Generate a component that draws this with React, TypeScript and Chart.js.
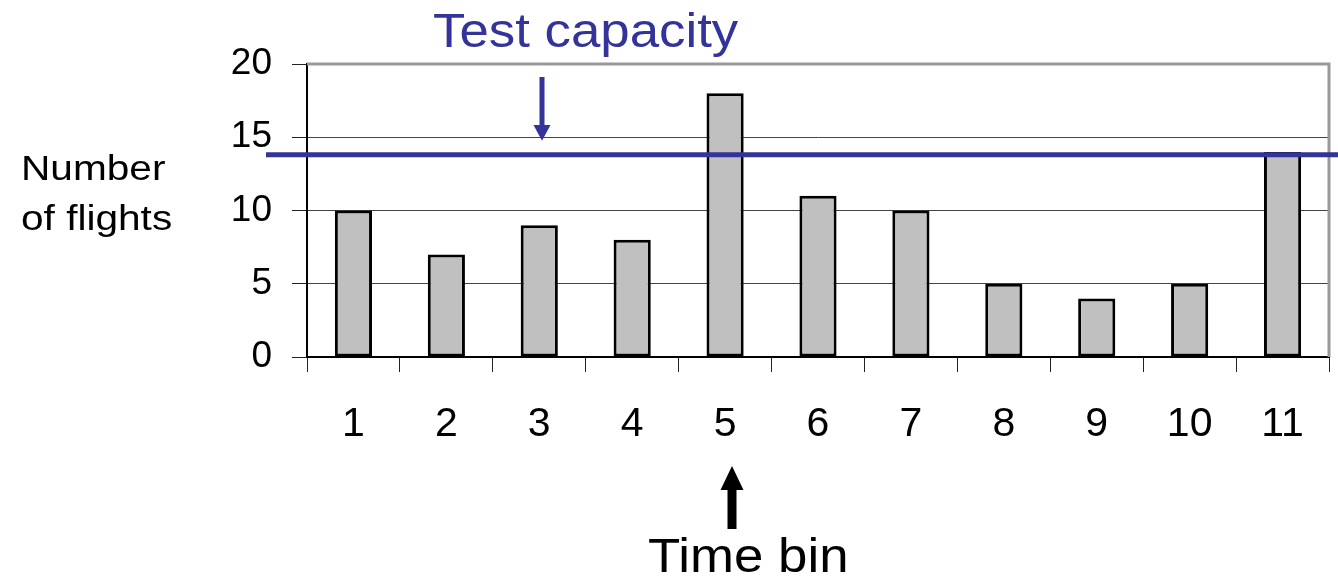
import React, { useEffect, useRef } from "react";
import { Chart, registerables } from "chart.js";

Chart.register(...registerables);

const categories = ["1", "2", "3", "4", "5", "6", "7", "8", "9", "10", "11"];
const flights = [10, 7, 9, 8, 18, 11, 10, 5, 4, 5, 14];
const capacity = 13.8;
const yTicks = [0, 5, 10, 15, 20];

const FONT = '"Liberation Sans", Arial, sans-serif';

const overlayPlugin = {
  id: "overlay",
  beforeDatasetsDraw(chart: any) {
    const { ctx, chartArea } = chart;
    ctx.save();
    ctx.strokeStyle = "#999999";
    ctx.lineWidth = 3;
    ctx.beginPath();
    ctx.moveTo(chartArea.left, chartArea.top);
    ctx.lineTo(chartArea.right, chartArea.top);
    ctx.lineTo(chartArea.right, chartArea.bottom);
    ctx.stroke();
    ctx.restore();
  },
  afterDatasetsDraw(chart: any) {
    const { ctx } = chart;
    const y = chart.scales.y.getPixelForValue(capacity);
    ctx.save();
    ctx.strokeStyle = "#333399";
    ctx.lineWidth = 5;
    ctx.beginPath();
    ctx.moveTo(266, y);
    ctx.lineTo(1338, y);
    ctx.stroke();
    ctx.restore();
  },
  afterDraw(chart: any) {
    const { ctx } = chart;
    const yCap = chart.scales.y.getPixelForValue(capacity);
    ctx.save();
    // down arrow (blue)
    ctx.fillStyle = "#333399";
    ctx.fillRect(539.5, 77, 5, 50);
    ctx.beginPath();
    ctx.moveTo(533.5, 125);
    ctx.lineTo(550.5, 125);
    ctx.lineTo(542, yCap - 14);
    ctx.closePath();
    ctx.fill();
    // up arrow (black)
    ctx.fillStyle = "#000000";
    ctx.fillRect(727.5, 488, 9, 41);
    ctx.beginPath();
    ctx.moveTo(720.5, 490);
    ctx.lineTo(743.5, 490);
    ctx.lineTo(732, 466);
    ctx.closePath();
    ctx.fill();

    const drawText = (t: string, x: number, y: number, size: number, sx: number, color: string) => {
      ctx.save();
      ctx.translate(x, y);
      ctx.scale(sx, 1);
      ctx.font = `${size}px ${FONT}`;
      ctx.fillStyle = color;
      ctx.textAlign = "left";
      ctx.textBaseline = "alphabetic";
      ctx.fillText(t, 0, 0);
      ctx.restore();
    };
    drawText("Test capacity", 433, 47, 48, 1.1, "#333399");
    drawText("Time bin", 648, 572, 48, 1.1, "#000000");
    drawText("Number", 21, 180, 35, 1.16, "#000000");
    drawText("of flights", 21, 230, 35, 1.16, "#000000");
    ctx.restore();
  },
};

export default function App() {
  const ref = useRef<HTMLCanvasElement | null>(null);
  useEffect(() => {
    document.body.style.margin = "0";
    const chart = new Chart(ref.current as HTMLCanvasElement, {
      type: "bar",
      data: {
        labels: categories,
        datasets: [
          {
            data: flights,
            backgroundColor: "#C0C0C0",
            borderColor: "#000000",
            borderWidth: 3,
            borderSkipped: false,
            categoryPercentage: 1,
            barPercentage: 0.4,
          },
        ],
      },
      options: {
        responsive: false,
        animation: false,
        layout: { padding: { top: 64, right: 9, left: 0, bottom: 0 } },
        plugins: { legend: { display: false }, tooltip: { enabled: false }, title: { display: false } },
        scales: {
          x: {
            grid: { offset: true, drawOnChartArea: false, tickLength: 15, color: "#222", lineWidth: 1 },
            border: { color: "#000", width: 2 },
            ticks: { color: "#000", font: { family: FONT, size: 41 }, padding: 28, maxRotation: 0 },
            afterFit: (s: any) => {
              s.height = 221;
            },
          },
          y: {
            min: 0,
            max: 20,
            afterBuildTicks: (s: any) => {
              s.ticks = yTicks.map((v) => ({ value: v }));
            },
            grid: {
              color: (c: any) => (c.tick && c.tick.value === 20 ? "rgba(0,0,0,0)" : "#444"),
              tickColor: "#222",
              lineWidth: 1,
              tickLength: 15,
            },
            border: { color: "#000", width: 2 },
            ticks: { color: "#000", font: { family: FONT, size: 37 }, padding: 20 },
            afterFit: (s: any) => {
              s.width = 307;
            },
          },
        },
      },
      plugins: [overlayPlugin],
    } as any);
    return () => chart.destroy();
  }, []);
  return (
    <div style={{ position: "absolute", left: 0, top: 0, width: 1338, height: 578 }}>
      <canvas ref={ref} width={1338} height={578} />
    </div>
  );
}
